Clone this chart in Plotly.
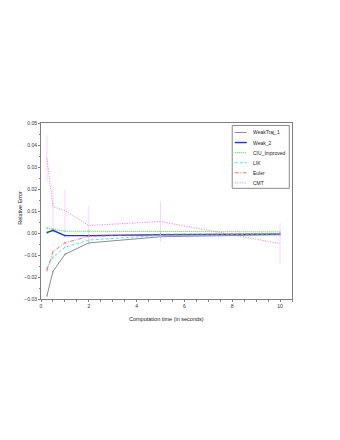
import plotly.graph_objects as go

# === Data ===
times = [0.25, 0.5, 1, 2, 5, 10]

weaktraj_1 = [-0.0285, -0.0175, -0.0097, -0.0045, -0.0017, -0.0008]
weak_2 = [0.0002, 0.0012, -0.0012, -0.0012, -0.0008, -0.0005]
ciu_improved = [0.0022, 0.0018, 0.0008, 0.0008, 0.0006, 0.0005]
lik = [-0.0160, -0.0110, -0.0065, -0.0032, -0.0011, -0.0005]
euler = [-0.0170, -0.0085, -0.0045, -0.0015, -0.0006, -0.0003]
cmt = [0.0339, 0.0120, 0.0102, 0.0034, 0.0052, -0.0048]

small_err = [0.0006, 0.0005, 0.0005, 0.0006, 0.0006, 0.0005]
cmt_err = [0.0105, 0.0095, 0.0093, 0.0090, 0.0093, 0.0093]

# name, values, errors, line colour, error colour, dash, width
series = [
    ("WeakTraj_1", weaktraj_1, small_err, "#6e6e6e", "#6e6e6e", "solid", 0.8),
    ("Weak_2", weak_2, small_err, "#1f2fe0", "#1f2fe0", "solid", 1.4),
    ("CIU_Improved", ciu_improved, small_err, "#33dd33", "#33dd33", "1px,1px", 1.0),
    ("LIK", lik, small_err, "#22e0e8", "#22e0e8", "3px,2px", 0.8),
    ("Euler", euler, small_err, "#f05555", "#f05555", "4px,1.5px,1px,1.5px", 0.8),
    ("CMT", cmt, cmt_err, "#f070f0", "#f8b8f8", "1px,1.5px", 1.0),
]

# === Page geometry (the page body has an 8px margin) ===
W, H = 340, 440
OFF = 8
# wanted plot area on the page: x 41..291.7, y 122.5..299
L, R, T, B = 41 - OFF, W - (291.7 - OFF), 122.5 - OFF, H - (299 - OFF)
px_x = lambda p: (p - OFF - L) / (W - L - R)
px_y = lambda p: (H - B - (p - OFF)) / (H - T - B)

fig = go.Figure()
for name, vals, err, color, ecolor, dash, width in series:
    fig.add_trace(go.Scatter(
        x=times, y=vals, name=name, mode="lines",
        line=dict(color=color, dash=dash, width=width),
        error_y=dict(type="data", array=err, visible=True,
                     color=ecolor, thickness=0.6, width=0),
        showlegend=False,
    ))

# === Legend box (drawn by hand so the rows can be tight) ===
shapes = [dict(type="rect", xref="paper", yref="paper",
               x0=px_x(232), x1=px_x(289), y0=px_y(188), y1=px_y(125),
               line=dict(color="#8a8a8a", width=1), fillcolor="white", layer="above")]
annotations = []
for i, (name, vals, err, color, ecolor, dash, width) in enumerate(series):
    yy = 132 + i * 10.1
    shapes.append(dict(type="line", xref="paper", yref="paper",
                       x0=px_x(234.5), x1=px_x(246.5), y0=px_y(yy), y1=px_y(yy),
                       line=dict(color=color, dash=dash, width=width), layer="above"))
    annotations.append(dict(xref="paper", yref="paper", x=px_x(250.5), y=px_y(yy),
                            xanchor="left", yanchor="middle", text=name, showarrow=False,
                            font=dict(size=5, color="#222222")))

# === Axis titles ===
annotations.append(dict(xref="paper", yref="paper", x=px_x(166.5), y=px_y(319),
                        xanchor="center", yanchor="middle", showarrow=False,
                        text="Computation time (in seconds)",
                        font=dict(size=5.5, color="#222222")))
annotations.append(dict(xref="paper", yref="paper", x=px_x(20), y=px_y(207.5),
                        xanchor="center", yanchor="middle", showarrow=False,
                        text="Relative Error", textangle=-90,
                        font=dict(size=5.5, color="#222222")))

axis_common = dict(
    showline=True, linecolor="#7f7f7f", linewidth=1, mirror=True,
    showgrid=False, zeroline=False, automargin=False,
    ticks="outside", ticklen=2, tickcolor="#7f7f7f", tickwidth=0.8,
    tickfont=dict(size=5, color="#333333"),
)

fig.update_xaxes(
    range=[0, 10.5], dtick=2, tick0=0,
    minor=dict(dtick=0.5, ticks="outside", ticklen=1.5, tickcolor="#7f7f7f"),
    **axis_common,
)
fig.update_yaxes(
    range=[-0.03, 0.05], dtick=0.01, tickformat=".2f",
    minor=dict(dtick=0.005, ticks="outside", ticklen=1.5, tickcolor="#7f7f7f"),
    **axis_common,
)

fig.update_layout(
    width=W, height=H,
    paper_bgcolor="white", plot_bgcolor="white",
    font=dict(family="Liberation Sans, Arial, sans-serif"),
    margin=dict(l=L, r=R, t=T, b=B),
    shapes=shapes, annotations=annotations,
    showlegend=False,
)

fig.write_html("out.html")
